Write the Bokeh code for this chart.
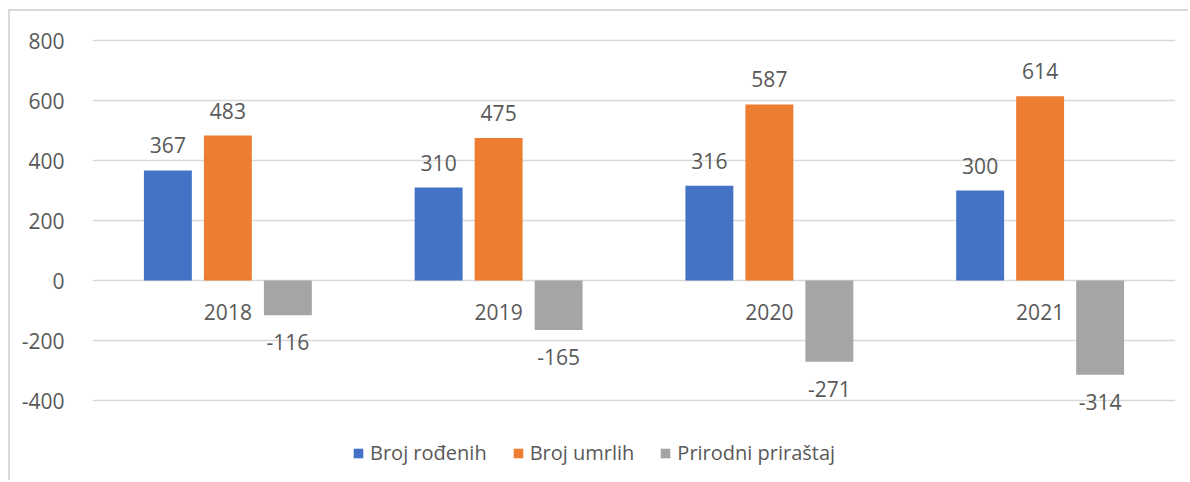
from bokeh.plotting import figure
from bokeh.models import (ColumnDataSource, FactorRange, Range1d, FixedTicker,
                          Legend, LegendItem)
from bokeh.transform import dodge
from bokeh.core.properties import value
from bokeh.embed import file_html
from bokeh.resources import INLINE

years = ["2018", "2019", "2020", "2021"]
rodjeni = [367, 310, 316, 300]
umrli = [483, 475, 587, 614]
prirastaj = [-116, -165, -271, -314]
series_names = ["Broj rođenih", "Broj umrlih", "Prirodni priraštaj"]
colors = ["#4472C4", "#ED7D31", "#A5A5A5"]
y_ticks = [-400, -200, 0, 200, 400, 600, 800]

FONT = "Open Sans"
TXT = "#595959"
FS = "21px"

src = ColumnDataSource(dict(
    year=years,
    r=rodjeni, u=umrli, p=prirastaj,
    r_t=[str(v) for v in rodjeni],
    u_t=[str(v) for v in umrli],
    p_t=[str(v) for v in prirastaj],
    zero=[0] * len(years),
))

p = figure(x_range=FactorRange(*years), y_range=Range1d(-660, 820),
           width=1180, height=471, output_backend="svg", toolbar_location=None,
           min_border_left=82, min_border_right=15, min_border_top=23,
           min_border_bottom=4)
p.margin = (9, 0, 0, 8)
p.styles = {"border-left": "2px solid #d9d9d9", "border-top": "2px solid #d9d9d9"}
p.outline_line_color = None
p.xaxis.visible = False
p.xgrid.visible = False
p.ygrid.grid_line_color = "#d9d9d9"
p.ygrid.grid_line_width = 1.5

p.yaxis.ticker = FixedTicker(ticks=y_ticks)
p.yaxis.major_label_overrides = {t: str(t) for t in y_ticks}
p.yaxis.axis_line_color = None
p.yaxis.major_tick_line_color = None
p.yaxis.minor_tick_line_color = None
p.yaxis.major_label_standoff = 22
p.yaxis.major_label_text_font = FONT
p.yaxis.major_label_text_font_size = FS
p.yaxis.major_label_text_color = TXT

off = 0.2216
w = 0.177
cols = ["r", "u", "p"]
offsets = [-off, 0.0, off]
renderers = []
for c, o, col in zip(cols, offsets, colors):
    r = p.vbar(x=dodge("year", o, range=p.x_range), top=c, bottom=0, width=w,
               source=src, fill_color=col, line_color=None)
    renderers.append(r)

# value labels
for c, o in zip(["r", "u"], offsets[:2]):
    p.text(x=dodge("year", o, range=p.x_range), y=c, text=c + "_t", source=src,
           text_align="center", text_baseline="middle", y_offset=-25,
           text_font=value(FONT), text_font_size=FS, text_color=TXT)
p.text(x=dodge("year", off, range=p.x_range), y="p", text="p_t", source=src,
       text_align="center", text_baseline="middle", y_offset=27,
       text_font=value(FONT), text_font_size=FS, text_color=TXT)

# category labels near zero line
p.text(x="year", y="zero", text="year", source=src,
       text_align="center", text_baseline="middle", y_offset=31,
       text_font=value(FONT), text_font_size=FS, text_color=TXT)

legend = Legend(items=[LegendItem(label=n, renderers=[r]) for n, r in zip(series_names, renderers)],
                orientation="horizontal", location=(260, 12),
                glyph_width=12, glyph_height=12, label_standoff=6, spacing=25,
                padding=0, margin=0, border_line_color=None, background_fill_alpha=0,
                label_text_font=FONT, label_text_font_size="20px", label_text_color=TXT)
p.add_layout(legend)

open("out.html", "w").write(file_html(p, INLINE))
